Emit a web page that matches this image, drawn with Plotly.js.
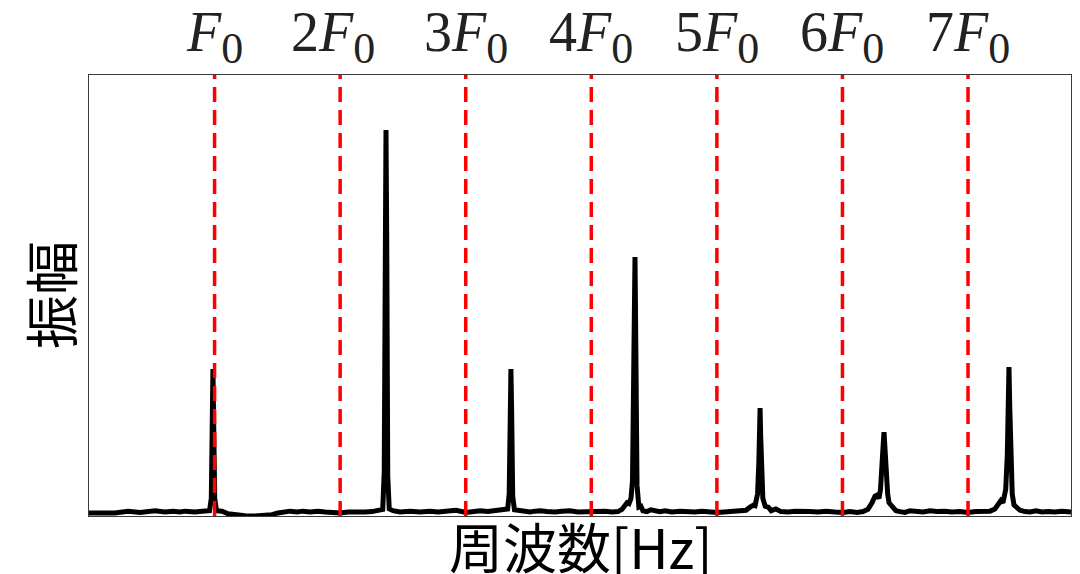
<!DOCTYPE html>
<html>
<head>
<meta charset="utf-8">
<script src="https://cdn.plot.ly/plotly-3.0.1.min.js"></script>
<style>
  html, body { margin: 0; padding: 0; background: #fff; }
  #chart { width: 1080px; height: 574px; }
</style>
</head>
<body>
<div id="chart"></div>
<script>
// Fundamental frequency and its harmonics (Hz)
const harmonicFreqs = [100, 200, 300, 400, 500, 600, 700];
const harmonicLabels = [
  '<i>F</i><sub><span style="font-size:44px">0</span></sub>',
  '2<i>F</i><sub><span style="font-size:44px">0</span></sub>',
  '3<i>F</i><sub><span style="font-size:44px">0</span></sub>',
  '4<i>F</i><sub><span style="font-size:44px">0</span></sub>',
  '5<i>F</i><sub><span style="font-size:44px">0</span></sub>',
  '6<i>F</i><sub><span style="font-size:44px">0</span></sub>',
  '7<i>F</i><sub><span style="font-size:44px">0</span></sub>'
];

// Measured amplitude spectrum (frequency in Hz, amplitude in arbitrary units)
const freqHz = [
  0, 8.8, 20.7, 31.1, 40.6, 52.6, 60.5, 66.9, 72.5, 76.4, 84.4, 90.0, 94.0,
  96.0, 97.4, 98.1, 98.7, 99.3, 100.1, 101.5,
  105.9, 110.7, 116.3, 124.2, 132.2, 140.1, 145.7, 150.5, 156.1, 160.1, 165.6, 170.4,
  176.0, 182.4, 188.0, 194.3, 199.9, 206.2, 212.6, 219.8, 225.4, 230.1,
  232.5, 233.9, 235.1, 235.9, 236.5, 237.1, 237.9, 239.1, 240.5,
  242.1, 247.7, 255.6, 263.6, 271.5, 277.9, 283.5, 292.2, 300.2, 305.8, 311.4, 317.7,
  323.3, 328.9,
  333.4, 334.6, 335.4, 336.0, 336.6, 337.4, 338.8,
  343.2, 347.2, 351.2, 355.2, 359.1, 364.7, 371.1, 376.6, 383.0, 389.4, 395.0, 399.7,
  405.3, 410.9, 416.5, 421.2,
  424.4, 426.8, 428.4, 430.0, 431.6,
  432.8, 434.2, 434.8, 435.4, 436.4,
  437.9, 439.5, 441.1, 444.3, 447.5, 450.7, 454.7, 458.7, 464.2, 470.6, 477.0, 482.6,
  488.1, 494.5, 500.1, 505.7, 512.0, 518.4, 523.2,
  526.4, 528.8, 530.4,
  532.4, 533.4, 533.9, 534.4, 534.9, 535.6, 536.6,
  538.5, 540.9, 543.3, 547.0, 551.0, 556.6, 562.2, 568.6, 574.1, 580.5, 586.9, 594.0,
  600.4, 606.0, 611.6, 616.4, 620.3,
  623.5, 625.9, 627.5, 629.1,
  630.3, 631.5, 632.4, 633.1, 633.8, 634.8, 636.0,
  637.1, 639.5, 642.6, 645.8, 649.8, 653.8, 658.5, 664.1, 669.7, 675.3, 681.6, 687.2,
  693.6, 699.9, 706.3, 712.7, 717.5, 721.4,
  723.8, 726.2, 727.8,
  730.0, 731.3, 732.0, 732.6, 733.2, 734.0, 735.2,
  736.6, 739.0, 741.4, 745.4, 749.3, 754.1, 758.9, 763.7, 769.2, 774.8, 782.0
];
const amplitude = [
  0.007, 0.007, 0.0068, 0.011, 0.008, 0.012, 0.009, 0.011, 0.009, 0.011, 0.009, 0.011, 0.010,
  0.012, 0.04, 0.22, 0.333, 0.21, 0.04, 0.012,
  0.011, 0.005, 0.002, 0.0005, 0.0, 0.0005, 0.003, 0.007, 0.009, 0.011, 0.009, 0.011,
  0.009, 0.011, 0.009, 0.008, 0.007, 0.009, 0.008, 0.009, 0.010, 0.012,
  0.013, 0.015, 0.10, 0.64, 0.875, 0.62, 0.09, 0.016, 0.014,
  0.012, 0.009, 0.011, 0.009, 0.011, 0.009, 0.010, 0.013, 0.008, 0.010, 0.012, 0.010,
  0.013, 0.014,
  0.016, 0.05, 0.24, 0.333, 0.23, 0.045, 0.014,
  0.013, 0.010, 0.009, 0.011, 0.012, 0.010, 0.009, 0.011, 0.012, 0.009, 0.010, 0.008,
  0.009, 0.011, 0.009, 0.010,
  0.015, 0.025, 0.030, 0.028, 0.040,
  0.08, 0.42, 0.587, 0.40, 0.07,
  0.020, 0.022, 0.012, 0.010, 0.014, 0.011, 0.010, 0.012, 0.009, 0.011, 0.010, 0.009,
  0.011, 0.009, 0.008, 0.009, 0.010, 0.012, 0.013,
  0.020, 0.024, 0.023,
  0.05, 0.12, 0.19, 0.245, 0.18, 0.10, 0.04,
  0.022, 0.020, 0.012, 0.016, 0.010, 0.009, 0.011, 0.009, 0.010, 0.009, 0.011, 0.009,
  0.008, 0.010, 0.008, 0.010, 0.015,
  0.030, 0.045, 0.047, 0.040,
  0.06, 0.10, 0.16, 0.19, 0.15, 0.09, 0.05,
  0.030, 0.020, 0.012, 0.010, 0.008, 0.012, 0.010, 0.009, 0.012, 0.010, 0.011, 0.009,
  0.010, 0.008, 0.010, 0.012, 0.011, 0.016,
  0.025, 0.035, 0.030,
  0.06, 0.14, 0.26, 0.338, 0.25, 0.12, 0.05,
  0.025, 0.020, 0.013, 0.010, 0.009, 0.012, 0.009, 0.010, 0.009, 0.011, 0.009
];

const spectrum = {
  type: 'scatter',
  mode: 'lines',
  x: freqHz,
  y: amplitude,
  line: { color: '#000000', width: 5, shape: 'linear' },
  hoverinfo: 'skip',
  showlegend: false
};

// Dashed red marker at every harmonic, drawn over the spectrum
const harmonicShapes = harmonicFreqs.map(f => ({
  type: 'line',
  xref: 'x', yref: 'paper',
  x0: f, x1: f, y0: 0, y1: 1,
  line: { color: '#ff0000', width: 3.5, dash: '15px,8px' },
  layer: 'above'
}));

// Horizontal nudge for each harmonic name (px)
const labelNudge = [0, -7, 0, 0, 0, 0, 0];

// Harmonic names along the top edge of the plot
const harmonicAnnotations = harmonicFreqs.map((f, i) => ({
  x: f, xref: 'x',
  y: 1, yref: 'paper',
  yanchor: 'bottom',
  xanchor: 'center',
  xshift: labelNudge[i],
  yshift: 0,
  showarrow: false,
  text: harmonicLabels[i],
  font: { family: 'Liberation Serif, serif', size: 56, color: '#222222' }
}));

const cjkFont = { family: 'Noto Sans CJK JP, sans-serif', size: 54, color: '#000000' };

// Axis titles
const axisTitles = [
  {
    text: '周波数[Hz]',
    x: 0.5, xref: 'paper',
    y: 0, yref: 'paper',
    xanchor: 'center', yanchor: 'top',
    yshift: 12,
    showarrow: false,
    font: cjkFont
  },
  {
    text: '振幅',
    x: 0, xref: 'paper',
    y: 0.5, yref: 'paper',
    xanchor: 'right', yanchor: 'middle',
    xshift: 2,
    textangle: -90,
    showarrow: false,
    font: cjkFont
  }
];

const layout = {
  width: 1080,
  height: 574,
  margin: { l: 89, r: 9, t: 75, b: 58, pad: 0 },
  paper_bgcolor: '#ffffff',
  plot_bgcolor: '#ffffff',
  xaxis: {
    range: [0, 782],
    showgrid: false,
    zeroline: false,
    showticklabels: false,
    ticks: '',
    showline: true,
    mirror: true,
    linecolor: '#3a3a3a',
    linewidth: 1.3
  },
  yaxis: {
    range: [0, 1],
    showgrid: false,
    zeroline: false,
    showticklabels: false,
    ticks: '',
    showline: true,
    mirror: true,
    linecolor: '#3a3a3a',
    linewidth: 1.3
  },
  shapes: harmonicShapes,
  annotations: harmonicAnnotations.concat(axisTitles)
};

Plotly.newPlot('chart', [spectrum], layout, { displayModeBar: false, staticPlot: true });
</script>
</body>
</html>
